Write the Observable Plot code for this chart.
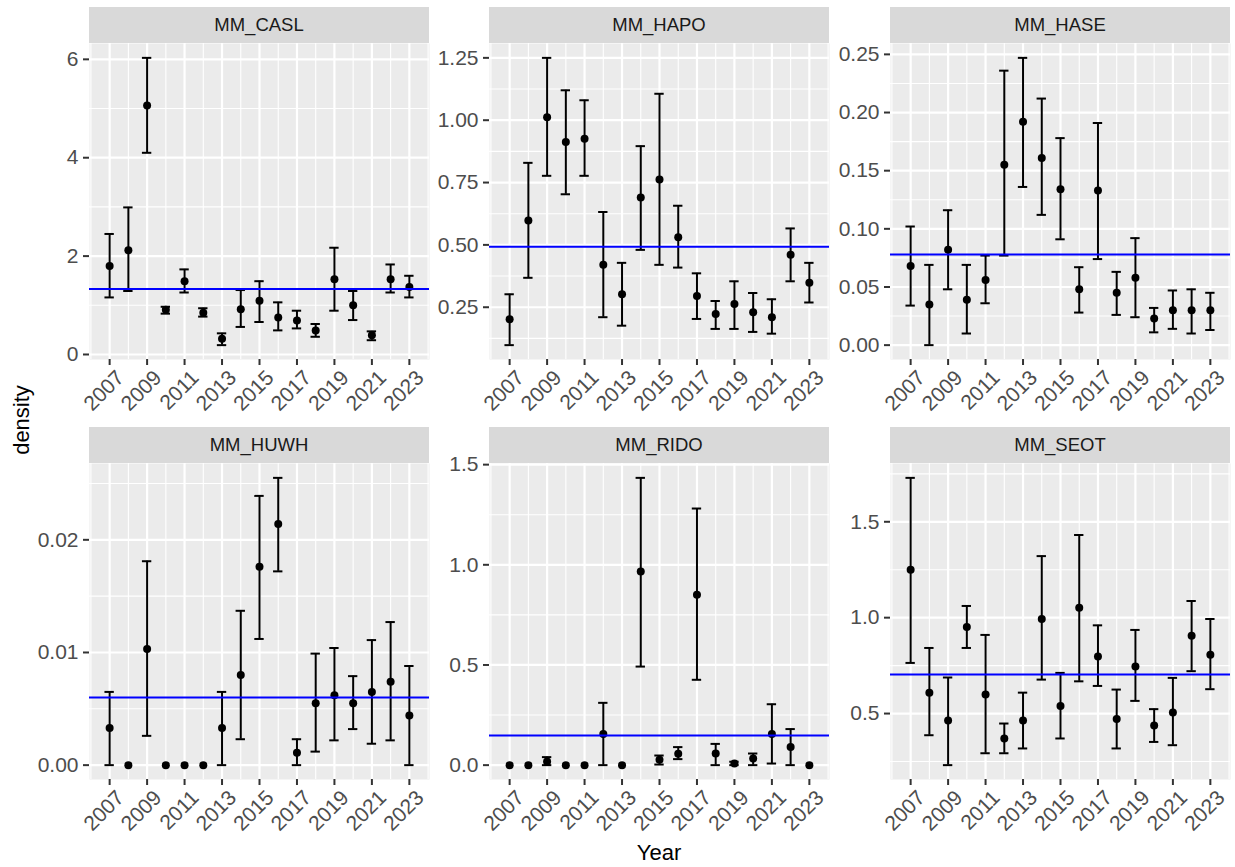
<!DOCTYPE html>
<html>
<head>
<meta charset="utf-8">
<script src="https://cdn.jsdelivr.net/npm/d3@7"></script>
<script src="https://cdn.jsdelivr.net/npm/@observablehq/plot@0.6"></script>
<style>
  body { margin: 0; background: #ffffff; font-family: "Liberation Sans", Arial, sans-serif; }
  #fig { position: relative; width: 1235px; height: 867px; overflow: hidden; background: #ffffff; }
  .strip { position: absolute; background: #D9D9D9; color: #1A1A1A; font-size: 18.5px; text-align: center; height: 36px; line-height: 36px; }
  .panel { position: absolute; }
  .axtitle { position: absolute; color: #000000; font-size: 22px; white-space: nowrap; }
</style>
</head>
<body>
<div id="fig"></div>
<script>
// ---------------- data ----------------
const years = [2007, 2008, 2009, 2010, 2011, 2012, 2013, 2014, 2015, 2016, 2017, 2018, 2019, 2020, 2021, 2022, 2023];
const xTicks = [2007, 2009, 2011, 2013, 2015, 2017, 2019, 2021, 2023];
const species = ["MM_CASL", "MM_HAPO", "MM_HASE", "MM_HUWH", "MM_RIDO", "MM_SEOT"];

const caslDensity = [1.80, 2.12, 5.06, 0.91, 1.49, 0.85, 0.32, 0.92, 1.09, 0.75, 0.69, 0.49, 1.53, 1.00, 0.39, 1.53, 1.37];
const caslLower   = [1.16, 1.29, 4.10, 0.83, 1.26, 0.77, 0.19, 0.56, 0.66, 0.49, 0.53, 0.36, 0.89, 0.70, 0.29, 1.26, 1.16];
const caslUpper   = [2.45, 2.99, 6.03, 0.97, 1.73, 0.94, 0.43, 1.31, 1.49, 1.06, 0.89, 0.62, 2.17, 1.29, 0.47, 1.83, 1.60];

const hapoDensity = [0.202, 0.598, 1.012, 0.913, 0.926, 0.420, 0.302, 0.690, 0.762, 0.531, 0.295, 0.223, 0.263, 0.230, 0.210, 0.460, 0.348];
const hapoLower   = [0.098, 0.368, 0.777, 0.703, 0.777, 0.210, 0.176, 0.480, 0.420, 0.409, 0.203, 0.163, 0.163, 0.151, 0.144, 0.354, 0.269];
const hapoUpper   = [0.302, 0.829, 1.250, 1.120, 1.080, 0.632, 0.428, 0.896, 1.106, 0.657, 0.386, 0.275, 0.354, 0.307, 0.282, 0.566, 0.428];

const haseDensity = [0.068, 0.035, 0.082, 0.039, 0.056, 0.155, 0.192, 0.161, 0.134, 0.048, 0.133, 0.045, 0.058, 0.023, 0.030, 0.030, 0.030];
const haseLower   = [0.034, 0.000, 0.048, 0.010, 0.036, 0.077, 0.136, 0.112, 0.091, 0.028, 0.074, 0.026, 0.024, 0.011, 0.014, 0.010, 0.013];
const haseUpper   = [0.102, 0.069, 0.116, 0.069, 0.077, 0.236, 0.247, 0.212, 0.178, 0.067, 0.191, 0.063, 0.092, 0.032, 0.047, 0.048, 0.045];

const huwhDensity = [0.0033, 0, 0.0103, 0, 0, 0, 0.0033, 0.0080, 0.0176, 0.0214, 0.0011, 0.0055, 0.0062, 0.0055, 0.0065, 0.0074, 0.0044];
const huwhLower   = [0, null, 0.0026, null, null, null, 0, 0.0023, 0.0112, 0.0172, 0, 0.0012, 0.0022, 0.0032, 0.0019, 0.0022, 0];
const huwhUpper   = [0.0065, null, 0.0181, null, null, null, 0.0065, 0.0137, 0.0239, 0.0255, 0.0023, 0.0099, 0.0104, 0.0079, 0.0111, 0.0127, 0.0088];

const ridoDensity = [0, 0, 0.018, 0, 0, 0.156, 0, 0.966, 0.027, 0.057, 0.851, 0.058, 0.008, 0.033, 0.156, 0.090, 0];
const ridoLower   = [null, null, 0.000, null, null, 0, null, 0.492, 0.003, 0.030, 0.426, 0, 0, 0, 0.008, 0, null];
const ridoUpper   = [null, null, 0.040, null, null, 0.311, null, 1.434, 0.048, 0.090, 1.281, 0.106, 0.017, 0.058, 0.304, 0.180, null];

const seotDensity = [1.250, 0.608, 0.464, 0.951, 0.599, 0.370, 0.464, 0.993, 0.540, 1.052, 0.797, 0.472, 0.745, 0.438, 0.505, 0.906, 0.806];
const seotLower   = [0.764, 0.387, 0.231, 0.842, 0.293, 0.293, 0.318, 0.677, 0.370, 0.668, 0.644, 0.318, 0.566, 0.352, 0.335, 0.721, 0.627];
const seotUpper   = [1.729, 0.842, 0.688, 1.061, 0.910, 0.448, 0.609, 1.321, 0.712, 1.431, 0.960, 0.625, 0.936, 0.523, 0.686, 1.087, 0.993];

const meanDensity = [1.33, 0.493, 0.078, 0.0060, 0.148, 0.703];

const caslTicks = [0, 2, 4, 6];                     const caslTickLabels = ["0", "2", "4", "6"];
const hapoTicks = [0.25, 0.5, 0.75, 1.0, 1.25];     const hapoTickLabels = ["0.25", "0.50", "0.75", "1.00", "1.25"];
const haseTicks = [0, 0.05, 0.1, 0.15, 0.2, 0.25];  const haseTickLabels = ["0.00", "0.05", "0.10", "0.15", "0.20", "0.25"];
const huwhTicks = [0, 0.01, 0.02];                  const huwhTickLabels = ["0.00", "0.01", "0.02"];
const ridoTicks = [0, 0.5, 1.0, 1.5];               const ridoTickLabels = ["0.0", "0.5", "1.0", "1.5"];
const seotTicks = [0.5, 1.0, 1.5];                  const seotTickLabels = ["0.5", "1.0", "1.5"];

// ---------------- assemble ----------------
const series = [
  [caslDensity, caslLower, caslUpper, caslTicks, caslTickLabels],
  [hapoDensity, hapoLower, hapoUpper, hapoTicks, hapoTickLabels],
  [haseDensity, haseLower, haseUpper, haseTicks, haseTickLabels],
  [huwhDensity, huwhLower, huwhUpper, huwhTicks, huwhTickLabels],
  [ridoDensity, ridoLower, ridoUpper, ridoTicks, ridoTickLabels],
  [seotDensity, seotLower, seotUpper, seotTicks, seotTickLabels]
];

// layout
const panelLefts = [89, 489, 890];
const panelTops = [43, 463];
const panelW = 340, panelH = 316;
const mLeft = 61, mBottom = 66;
const stripH = 36;
const capHalf = 0.25;
const FONT = '"Liberation Sans", Arial, sans-serif';
const TICKFONT = 21;

const xMin = d3.min(years) - capHalf, xMax = d3.max(years) + capHalf;
const xPad = (xMax - xMin) * 0.05;
const xDomain = [xMin - xPad, xMax + xPad];
const xMinor = [xTicks[0] - 1, ...xTicks.map(t => t + 1)].filter(t => t >= xDomain[0] && t <= xDomain[1]);

const fig = document.getElementById("fig");

species.forEach((name, k) => {
  const [dens, lo, hi, ticks, tickLabels] = series[k];
  const rows = years.map((year, i) => ({year, value: dens[i], lo: lo[i], hi: hi[i]}));
  const bars = rows.filter(d => d.lo != null && d.hi != null);
  const allVals = [...dens, ...lo.filter(v => v != null), ...hi.filter(v => v != null)];
  const [yLo, yHi] = d3.extent(allVals);
  const yPad = (yHi - yLo) * 0.05;
  const yDomain = [yLo - yPad, yHi + yPad];
  const step = ticks[1] - ticks[0];
  const yMinor = [ticks[0] - step / 2, ...ticks.map(t => t + step / 2)].filter(t => t >= yDomain[0] && t <= yDomain[1]);
  const yMajor = ticks.filter(t => t >= yDomain[0] && t <= yDomain[1]);
  const labelMap = new Map(ticks.map((t, i) => [t, tickLabels[i]]));

  const col = k % 3, row = Math.floor(k / 3);
  const left = panelLefts[col], top = panelTops[row];

  const strip = document.createElement("div");
  strip.className = "strip";
  strip.style.left = left + "px";
  strip.style.top = (top - stripH) + "px";
  strip.style.width = panelW + "px";
  strip.textContent = name;
  fig.appendChild(strip);

  const chart = Plot.plot({
    width: mLeft + panelW,
    height: panelH + mBottom,
    marginLeft: mLeft,
    marginRight: 0,
    marginTop: 0,
    marginBottom: mBottom,
    style: {fontFamily: FONT, fontSize: TICKFONT + "px", background: "transparent", overflow: "visible"},
    x: {domain: xDomain},
    y: {domain: yDomain},
    marks: [
      Plot.frame({fill: "#EBEBEB", stroke: "none"}),
      Plot.gridY(yMinor, {stroke: "#ffffff", strokeOpacity: 1, strokeWidth: 1.1}),
      Plot.gridX(xMinor, {stroke: "#ffffff", strokeOpacity: 1, strokeWidth: 1.1}),
      Plot.gridY(yMajor, {stroke: "#ffffff", strokeOpacity: 1, strokeWidth: 2.2}),
      Plot.gridX(xTicks, {stroke: "#ffffff", strokeOpacity: 1, strokeWidth: 2.2}),
      Plot.ruleX(bars, {x: "year", y1: "lo", y2: "hi", stroke: "#000000", strokeWidth: 2}),
      Plot.ruleY(bars, {y: "lo", x1: d => d.year - capHalf, x2: d => d.year + capHalf, stroke: "#000000", strokeWidth: 2}),
      Plot.ruleY(bars, {y: "hi", x1: d => d.year - capHalf, x2: d => d.year + capHalf, stroke: "#000000", strokeWidth: 2}),
      Plot.dot(rows, {x: "year", y: "value", r: 4, fill: "#000000", stroke: "none"}),
      Plot.ruleY([meanDensity[k]], {stroke: "#0000FF", strokeWidth: 2}),
      Plot.axisY(yMajor, {tickFormat: d => labelMap.get(d), tickSize: 6, tickPadding: 5, stroke: "#333333", strokeWidth: 2, fill: "#4D4D4D", fontSize: TICKFONT, label: null}),
      Plot.axisX(xTicks, {tickFormat: () => "", tickSize: 6, stroke: "#333333", strokeWidth: 2, label: null}),
      Plot.text(xTicks, {x: d => d, text: d => String(d), frameAnchor: "bottom", dx: 5, dy: 9, rotate: -45, textAnchor: "end", lineAnchor: "top", fill: "#4D4D4D", fontSize: TICKFONT})
    ]
  });
  chart.classList.add("panel");
  chart.style.left = (left - mLeft) + "px";
  chart.style.top = top + "px";
  fig.appendChild(chart);
});

// axis titles
const yTitle = document.createElement("div");
yTitle.className = "axtitle";
yTitle.textContent = "density";
yTitle.style.left = "22px";
yTitle.style.top = "420px";
yTitle.style.transform = "translate(-50%, -50%) rotate(-90deg)";
fig.appendChild(yTitle);

const xTitle = document.createElement("div");
xTitle.className = "axtitle";
xTitle.textContent = "Year";
xTitle.style.left = "659px";
xTitle.style.top = "853px";
xTitle.style.transform = "translate(-50%, -50%)";
fig.appendChild(xTitle);
</script>
</body>
</html>
